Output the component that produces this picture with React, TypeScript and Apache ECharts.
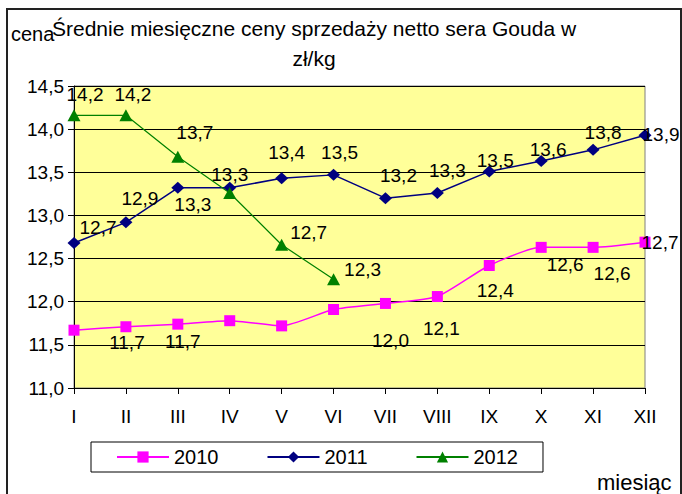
import React, { useEffect, useRef } from "react";
import * as echarts from "echarts";

const months = ["I", "II", "III", "IV", "V", "VI", "VII", "VIII", "IX", "X", "XI", "XII"];
const values2010 = [11.67, 11.71, 11.74, 11.78, 11.72, 11.91, 11.98, 12.06, 12.42, 12.63, 12.63, 12.69];
const values2011 = [12.68, 12.92, 13.32, 13.32, 13.43, 13.47, 13.2, 13.26, 13.51, 13.63, 13.76, 13.93];
const values2012 = [14.16, 14.16, 13.68, 13.26, 12.66, 12.26];
const seriesNames = ["2010", "2011", "2012"];
const yTicks = { min: 11, max: 14.5, step: 0.5 };

// label placement (style only): [dx, dy] from point, null = no label
const labelPos2010: ([number, number] | null)[] = [null, [1, 16], [5, 17], null, null, null, [5, 37], [4, 32], [6, 25], [24, 17], [19, 26], [15, 0]];
const labelPos2011: ([number, number] | null)[] = [[24, -16], [14, -24], [15, 17], [0, -13], [5, -26], [6, -22], [13, -23], [10, -22], [6, -11], [7, -12], [10, -17], [16, -1]];
const labelPos2012: ([number, number] | null)[] = [[11, -21], [7, -21], [17, -24], null, [27, -12], [29, -10]];

const FONT = "Arial, 'Liberation Sans', sans-serif";
const fmt = (v: number) => v.toFixed(1).replace(".", ",");

function buildData(vals: number[], pos: ([number, number] | null)[]) {
  return vals.map((v, i) => {
    const p = pos[i];
    return p
      ? { value: v, label: { show: true, position: "inside", offset: p } }
      : { value: v, label: { show: false } };
  });
}

export default function App() {
  const ref = useRef<HTMLDivElement>(null);
  useEffect(() => {
    if (!ref.current) return;
    const chart = echarts.init(ref.current, null, { renderer: "svg" });
    const labelStyle = {
      color: "#000",
      fontSize: 19,
      fontFamily: FONT,
      formatter: (p: any) => fmt(p.value),
    };
    chart.setOption({
      animation: false,
      backgroundColor: "#fff",
      textStyle: { fontFamily: FONT },
      grid: {
        left: 74,
        top: 86,
        right: 37,
        bottom: 106,
        show: true,
        backgroundColor: "#FFFF99",
        borderColor: "#808080",
        borderWidth: 1,
      },
      legend: {
        data: seriesNames,
        left: 91,
        top: 442,
        orient: "horizontal",
        padding: [5, 25, 5, 25],
        itemGap: 48,
        itemWidth: 52,
        itemHeight: 14,
        borderColor: "#000",
        borderWidth: 1,
        backgroundColor: "#fff",
        textStyle: { fontSize: 20, color: "#000", fontFamily: FONT },
      },
      xAxis: {
        type: "category",
        data: months,
        boundaryGap: false,
        axisLine: { lineStyle: { color: "#000", width: 1 } },
        axisTick: { show: true, length: 6, inside: false, lineStyle: { color: "#000" } },
        axisLabel: { color: "#000", fontSize: 19, fontFamily: FONT, margin: 19 },
        splitLine: { show: false },
      },
      yAxis: {
        type: "value",
        min: yTicks.min,
        max: yTicks.max,
        interval: yTicks.step,
        axisLine: { show: true, lineStyle: { color: "#000", width: 1 } },
        axisTick: { show: true, length: 6, lineStyle: { color: "#000" } },
        axisLabel: { color: "#000", fontSize: 19, fontFamily: FONT, margin: 10, formatter: (v: number) => fmt(v) },
        splitLine: { show: true, lineStyle: { color: "#000", width: 1 } },
      },
      series: [
        {
          name: seriesNames[0],
          type: "line",
          data: buildData(values2010, labelPos2010),
          smooth: 0.2,
          symbol: "rect",
          symbolSize: 11,
          itemStyle: { color: "#FF00FF" },
          lineStyle: { color: "#FF00FF", width: 1.5 },
          label: labelStyle,
          z: 3,
        },
        {
          name: seriesNames[1],
          type: "line",
          data: buildData(values2011, labelPos2011),
          symbol: "diamond",
          symbolSize: [13, 12],
          itemStyle: { color: "#000080" },
          lineStyle: { color: "#000080", width: 1.5 },
          label: labelStyle,
          z: 4,
        },
        {
          name: seriesNames[2],
          type: "line",
          data: buildData(values2012, labelPos2012),
          symbol: "triangle",
          symbolSize: [13, 12],
          itemStyle: { color: "#008000" },
          lineStyle: { color: "#008000", width: 1.2 },
          label: labelStyle,
          z: 5,
        },
      ],
      graphic: [
        {
          type: "rect",
          shape: { x: 7, y: 9, width: 674, height: 500 },
          style: { fill: "none", stroke: "#222", lineWidth: 2 },
          silent: true,
          z: 100,
        },
        {
          type: "text",
          x: 314,
          y: 13,
          style: {
            text: "Średnie miesięczne ceny sprzedaży netto sera Gouda w\nzł/kg",
            fontSize: 21,
            fontFamily: FONT,
            fill: "#000",
            align: "center",
            lineHeight: 30,
          },
          z: 101,
        },
        {
          type: "text",
          x: 11,
          y: 34,
          style: { text: "cena", fontSize: 20, fontFamily: FONT, fill: "#000", align: "left", verticalAlign: "middle" },
          z: 100,
        },
        {
          type: "text",
          x: 597,
          y: 482,
          style: { text: "miesiąc", fontSize: 22, fontFamily: FONT, fill: "#000", align: "left", verticalAlign: "middle" },
          z: 100,
        },
      ],
    });
    return () => chart.dispose();
  }, []);
  return <div ref={ref} style={{ position: "absolute", left: 0, top: 0, width: 682, height: 494 }} />;
}
